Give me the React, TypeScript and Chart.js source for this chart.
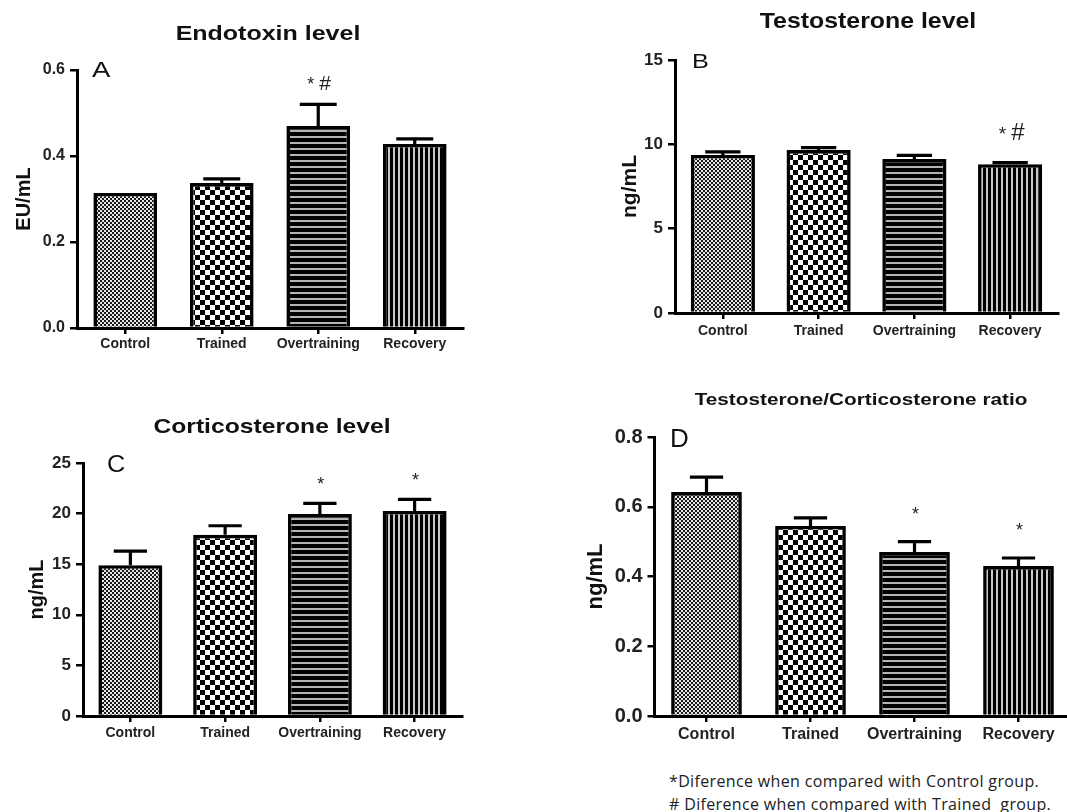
import React, { useEffect, useRef } from 'react';
import { Chart, registerables } from 'chart.js';

Chart.register(...registerables);

// ---------- data ----------
const categories = ['Control', 'Trained', 'Overtraining', 'Recovery'];

const endotoxinMean = [0.314, 0.337, 0.47, 0.428];
const endotoxinErr = [0.0, 0.01, 0.05, 0.012];
const endotoxinMarks = ['', '', '*#', ''];
const endotoxinTicks = [0, 0.2, 0.4, 0.6];

const testosteroneMean = [9.37, 9.66, 9.13, 8.82];
const testosteroneErr = [0.18, 0.14, 0.22, 0.1];
const testosteroneMarks = ['', '', '', '*#'];
const testosteroneTicks = [0, 5, 10, 15];

const corticoMean = [14.9, 17.9, 19.96, 20.26];
const corticoErr = [1.4, 0.9, 1.05, 1.15];
const corticoMarks = ['', '', '*', '*'];
const corticoTicks = [0, 5, 10, 15, 20, 25];

const ratioMean = [0.642, 0.545, 0.47, 0.43];
const ratioErr = [0.043, 0.023, 0.03, 0.023];
const ratioMarks = ['', '', '*', '*'];
const ratioTicks = [0, 0.2, 0.4, 0.6, 0.8];

const footnotes = [
  '*Diference when compared with Control group.',
  '# Diference when compared with Trained  group.',
];

const FONT = "'Liberation Sans', Arial, sans-serif";

// ---------- patterns ----------
function makePattern(kind: string): CanvasPattern | string {
  const c = document.createElement('canvas');
  const ctx = c.getContext('2d');
  if (!ctx) return '#888';
  if (kind === 'fine') {
    c.width = 4; c.height = 4;
    ctx.fillStyle = '#e6e6e6'; ctx.fillRect(0, 0, 4, 4);
    ctx.fillStyle = '#1a1a1a'; ctx.fillRect(0, 0, 2, 2); ctx.fillRect(2, 2, 2, 2);
  } else if (kind === 'coarse') {
    c.width = 10; c.height = 10;
    ctx.fillStyle = '#ffffff'; ctx.fillRect(0, 0, 10, 10);
    ctx.fillStyle = '#000000'; ctx.fillRect(0, 0, 5, 5); ctx.fillRect(5, 5, 5, 5);
  } else if (kind === 'hstripe') {
    c.width = 6; c.height = 6;
    ctx.fillStyle = '#000000'; ctx.fillRect(0, 0, 6, 6);
    ctx.fillStyle = '#b4b4b4'; ctx.fillRect(0, 4, 6, 2);
  } else {
    c.width = 5; c.height = 5;
    ctx.fillStyle = '#000000'; ctx.fillRect(0, 0, 5, 5);
    ctx.fillStyle = '#c8c8c8'; ctx.fillRect(3, 0, 2, 5);
  }
  return ctx.createPattern(c, 'repeat') || '#888';
}

// ---------- plugins ----------
const errorBarPlugin = {
  id: 'errorBars',
  afterDatasetsDraw(chart: any, _args: any, opts: any) {
    const meta = chart.getDatasetMeta(0);
    const yScale = chart.scales.y;
    const ctx = chart.ctx;
    const mean: number[] = opts.mean;
    const err: number[] = opts.err;
    const marks: string[] = opts.marks;
    ctx.save();
    meta.data.forEach((el: any, i: number) => {
      const yTop = yScale.getPixelForValue(mean[i]);
      const yErr = yScale.getPixelForValue(mean[i] + err[i]);
      const capW = el.width * opts.capFrac;
      if (err[i] > 0) {
        ctx.strokeStyle = '#000';
        ctx.lineWidth = 3.2;
        ctx.beginPath();
        ctx.moveTo(el.x, yTop);
        ctx.lineTo(el.x, yErr);
        ctx.moveTo(el.x - capW / 2, yErr);
        ctx.lineTo(el.x + capW / 2, yErr);
        ctx.stroke();
      }
      const m = marks[i];
      if (m) {
        ctx.fillStyle = '#222';
        ctx.textBaseline = 'alphabetic';
        const base = yErr - opts.markOffset;
        if (m.indexOf('#') >= 0) {
          ctx.textAlign = 'right';
          ctx.font = opts.markFont;
          ctx.fillText('*', el.x - 4, base);
          ctx.textAlign = 'left';
          ctx.font = opts.hashFont;
          ctx.fillText('#', el.x + 1, base);
        } else {
          ctx.textAlign = 'center';
          ctx.font = opts.markFont;
          ctx.fillText(m, el.x + 1, base);
        }
      }
    });
    ctx.restore();
  },
};

const panelTextPlugin = {
  id: 'panelText',
  afterDraw(chart: any, _args: any, o: any) {
    const ctx = chart.ctx;
    ctx.save();
    ctx.fillStyle = '#111';
    ctx.textBaseline = 'alphabetic';
    ctx.textAlign = 'center';
    ctx.font = o.titleFont;
    ctx.translate(o.titleX, o.titleY);
    ctx.scale(o.titleStretch, 1);
    ctx.fillText(o.title, 0, 0);
    ctx.restore();
    ctx.save();
    ctx.fillStyle = '#111';
    ctx.textBaseline = 'alphabetic';
    ctx.textAlign = 'left';
    ctx.font = o.letterFont;
    ctx.translate(o.letterX, o.letterY);
    ctx.scale(o.letterStretch, 1);
    ctx.fillText(o.letter, 0, 0);
    ctx.restore();
  },
};

// ---------- panel specs (layout / style only) ----------
type Spec = {
  left: number; top: number; w: number; h: number;
  area: { l: number; r: number; t: number; b: number };
  mean: number[]; err: number[]; marks: string[]; ticks: number[]; decimals: number;
  yTitle: string; yTitleSize: number; yTitleX: number;
  yTickSize: number; xTickSize: number; xPad: number;
  barPct: number; capFrac: number; markFont: string; hashFont: string; markOffset: number;
  title: string; titleFont: string; titleX: number; titleY: number; titleStretch: number;
  letter: string; letterFont: string; letterX: number; letterY: number; letterStretch: number;
};

const specs: Spec[] = [
  {
    left: 0, top: 0, w: 533, h: 400, area: { l: 77, r: 463, t: 70, b: 328 },
    mean: endotoxinMean, err: endotoxinErr, marks: endotoxinMarks, ticks: endotoxinTicks, decimals: 1,
    yTitle: 'EU/mL', yTitleSize: 20, yTitleX: 24, yTickSize: 16, xTickSize: 14, xPad: 2,
    barPct: 0.66, capFrac: 0.58, markFont: `18px ${FONT}`, hashFont: `21px ${FONT}`, markOffset: 14,
    title: 'Endotoxin level', titleFont: `bold 21px ${FONT}`, titleX: 268, titleY: 40, titleStretch: 1.19,
    letter: 'A', letterFont: `22px ${FONT}`, letterX: 92, letterY: 77, letterStretch: 1.25,
  },
  {
    left: 533, top: 0, w: 534, h: 400, area: { l: 142, r: 525, t: 60, b: 313 },
    mean: testosteroneMean, err: testosteroneErr, marks: testosteroneMarks, ticks: testosteroneTicks, decimals: 0,
    yTitle: 'ng/mL', yTitleSize: 21, yTitleX: 97, yTickSize: 17, xTickSize: 14, xPad: 4,
    barPct: 0.67, capFrac: 0.55, markFont: `19px ${FONT}`, hashFont: `24px ${FONT}`, markOffset: 23,
    title: 'Testosterone level', titleFont: `bold 22px ${FONT}`, titleX: 335, titleY: 28, titleStretch: 1.13,
    letter: 'B', letterFont: `21px ${FONT}`, letterX: 159, letterY: 68, letterStretch: 1.2,
  },
  {
    left: 0, top: 400, w: 533, h: 412, area: { l: 83, r: 462, t: 63, b: 316 },
    mean: corticoMean, err: corticoErr, marks: corticoMarks, ticks: corticoTicks, decimals: 0,
    yTitle: 'ng/mL', yTitleSize: 20, yTitleX: 37, yTickSize: 17, xTickSize: 14, xPad: 3,
    barPct: 0.675, capFrac: 0.52, markFont: `18px ${FONT}`, hashFont: `18px ${FONT}`, markOffset: 13,
    title: 'Corticosterone level', titleFont: `bold 21px ${FONT}`, titleX: 272, titleY: 33, titleStretch: 1.175,
    letter: 'C', letterFont: `24px ${FONT}`, letterX: 107, letterY: 72, letterStretch: 1.05,
  },
  {
    left: 533, top: 380, w: 545, h: 380, area: { l: 121.5, r: 537.5, t: 57, b: 336 },
    mean: ratioMean, err: ratioErr, marks: ratioMarks, ticks: ratioTicks, decimals: 1,
    yTitle: 'ng/mL', yTitleSize: 22, yTitleX: 63, yTickSize: 20, xTickSize: 16, xPad: 3,
    barPct: 0.68, capFrac: 0.47, markFont: `18px ${FONT}`, hashFont: `18px ${FONT}`, markOffset: 22,
    title: 'Testosterone/Corticosterone ratio', titleFont: `bold 17px ${FONT}`, titleX: 328, titleY: 25, titleStretch: 1.22,
    letter: 'D', letterFont: `26px ${FONT}`, letterX: 137, letterY: 67, letterStretch: 1.0,
  },
];

function buildConfig(s: Spec): any {
  const patterns = ['fine', 'coarse', 'hstripe', 'vstripe'].map(makePattern);
  const lh = s.yTitleSize * 1.2;
  return {
    type: 'bar',
    data: {
      labels: categories,
      datasets: [
        {
          data: s.mean,
          backgroundColor: patterns,
          borderColor: '#000',
          borderWidth: 3.6,
          borderSkipped: 'start',
          barPercentage: s.barPct,
          categoryPercentage: 1,
        },
      ],
    },
    options: {
      responsive: false,
      animation: false,
      events: [],
      layout: { padding: { left: 0, top: s.area.t, right: s.w - s.area.r, bottom: 0 } },
      plugins: {
        legend: { display: false },
        tooltip: { enabled: false },
        title: { display: false },
        errorBars: {
          mean: s.mean, err: s.err, marks: s.marks, capFrac: s.capFrac,
          markFont: s.markFont, hashFont: s.hashFont, markOffset: s.markOffset,
        },
        panelText: {
          title: s.title, titleFont: s.titleFont, titleX: s.titleX, titleY: s.titleY, titleStretch: s.titleStretch,
          letter: s.letter, letterFont: s.letterFont, letterX: s.letterX, letterY: s.letterY, letterStretch: s.letterStretch,
        },
      },
      scales: {
        x: {
          type: 'category',
          offset: true,
          grid: { display: true, offset: false, drawOnChartArea: false, drawTicks: true, tickLength: 6, color: '#000', lineWidth: 2.5 },
          border: { display: true, color: '#000', width: 3 },
          ticks: { color: '#222', padding: s.xPad, font: { family: FONT, size: s.xTickSize, weight: 'bold' }, maxRotation: 0, autoSkip: false },
          afterFit: (sc: any) => { sc.height = s.h - s.area.b; },
        },
        y: {
          type: 'linear',
          min: s.ticks[0],
          max: s.ticks[s.ticks.length - 1],
          afterBuildTicks: (sc: any) => { sc.ticks = s.ticks.map((v) => ({ value: v })); },
          grid: { display: true, drawOnChartArea: false, drawTicks: true, tickLength: 7, color: '#000', lineWidth: 2.5 },
          border: { display: true, color: '#000', width: 3 },
          ticks: {
            color: '#222', padding: 5,
            font: { family: FONT, size: s.yTickSize, weight: 'bold' },
            callback: (v: any) => Number(v).toFixed(s.decimals),
          },
          title: {
            display: true, text: s.yTitle, color: '#111',
            font: { family: FONT, size: s.yTitleSize, weight: 'bold' },
            padding: { top: s.yTitleX - lh / 2, bottom: 0 },
          },
          afterFit: (sc: any) => { sc.width = s.area.l; },
        },
      },
    },
    plugins: [errorBarPlugin, panelTextPlugin],
  };
}

function Panel({ spec }: { spec: Spec }) {
  const ref = useRef<HTMLCanvasElement>(null);
  useEffect(() => {
    if (!ref.current) return;
    const chart = new Chart(ref.current, buildConfig(spec));
    return () => chart.destroy();
  }, [spec]);
  return (
    <canvas
      ref={ref}
      width={spec.w}
      height={spec.h}
      style={{ position: 'absolute', left: spec.left, top: spec.top, width: spec.w, height: spec.h }}
    />
  );
}

export default function App() {
  return (
    <div
      style={{
        position: 'absolute', left: 0, top: 0, width: 1067, height: 812,
        overflow: 'hidden', background: '#fff',
      }}
    >
      {specs.map((s, i) => (
        <Panel key={i} spec={s} />
      ))}
      <div
        style={{
          position: 'absolute', left: 669, top: 770, fontFamily: "'Open Sans', 'Noto Sans', sans-serif",
          fontSize: 16, lineHeight: '23px', color: '#222', whiteSpace: 'pre', letterSpacing: 0.35,
        }}
      >
        {footnotes.map((f, i) => (
          <div key={i}>{f}</div>
        ))}
      </div>
    </div>
  );
}
